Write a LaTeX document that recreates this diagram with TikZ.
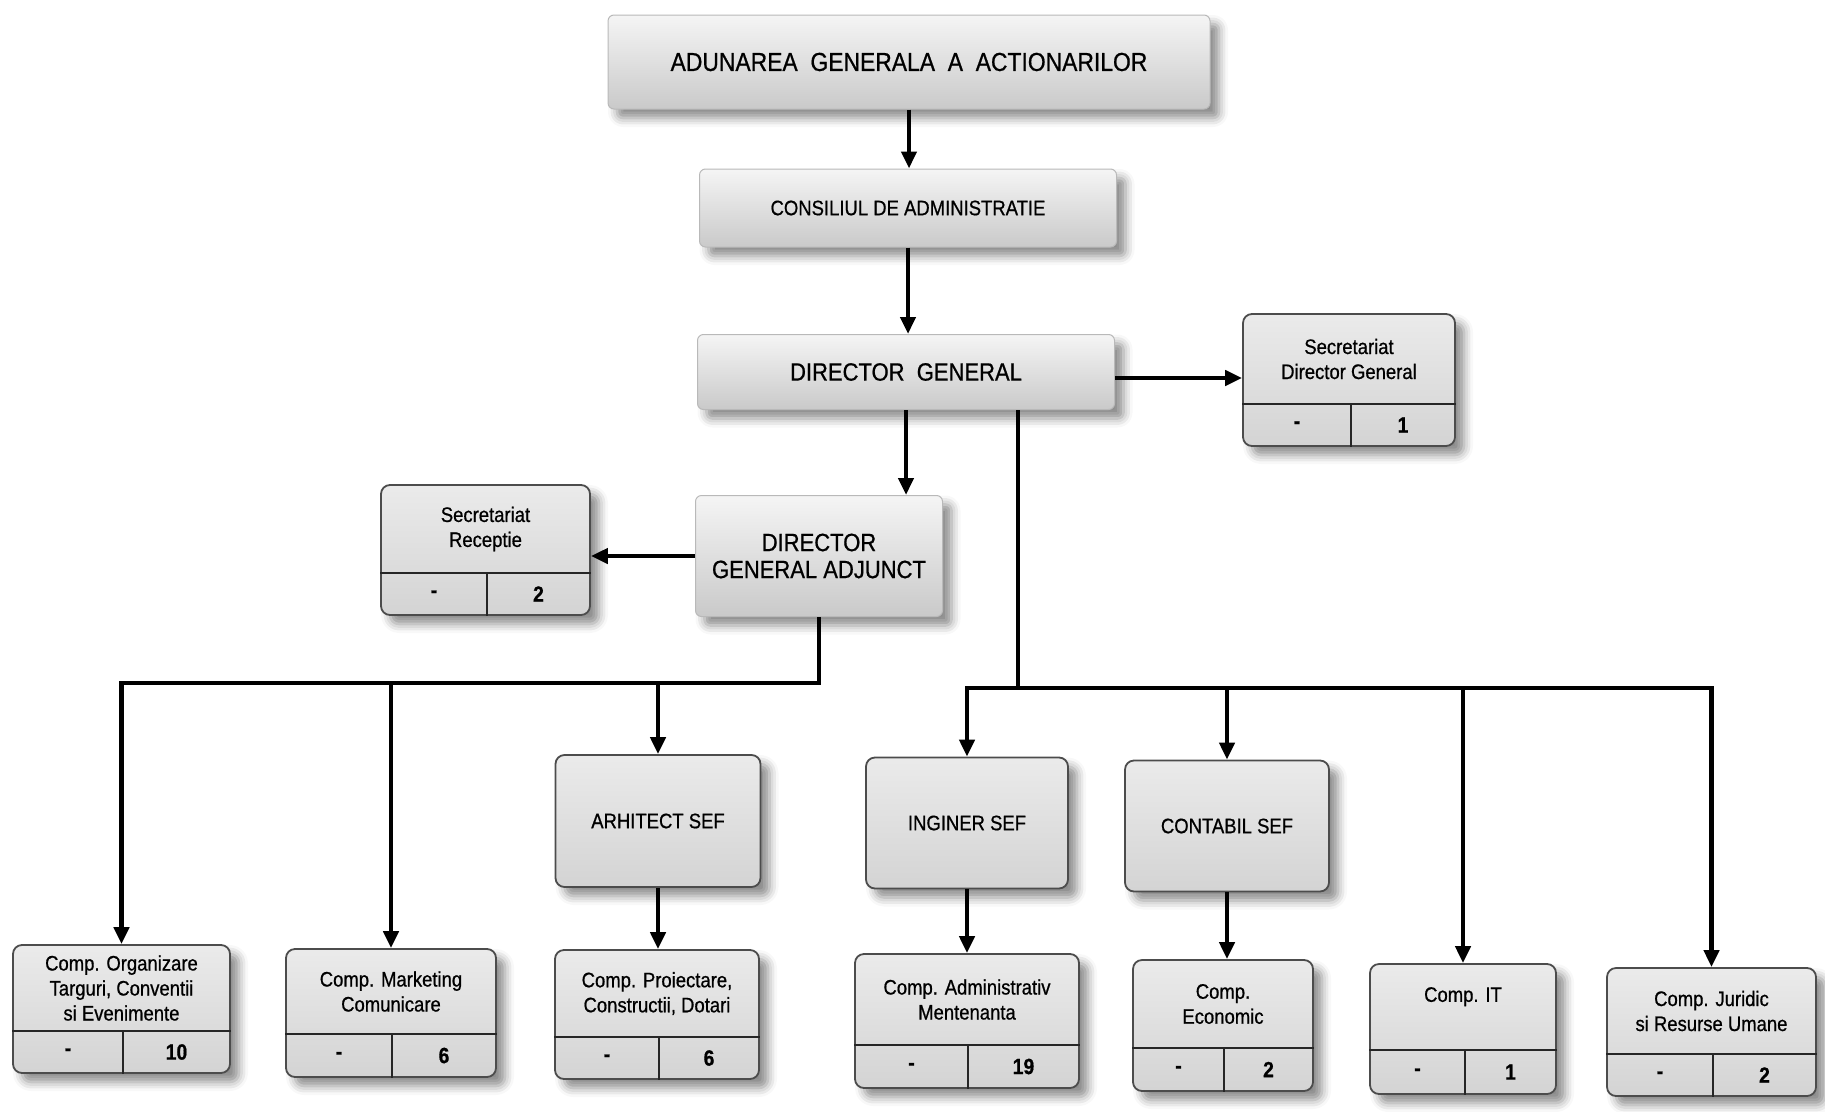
\documentclass[tikz,border=0pt]{standalone}
\usepackage{fontspec}
\setmainfont{Liberation Sans}[FakeStretch=0.88, FakeBold=0.7]
\usetikzlibrary{arrows.meta,shadows.blur}

\tikzset{
  boxshadow/.style={blur shadow={shadow xshift=9pt, shadow yshift=-9pt, shadow blur radius=9pt, shadow opacity=45}},
  headbox/.style={draw=gray!55, line width=1pt, rounded corners=6pt, top color=gray!8, bottom color=gray!42, boxshadow, align=center, inner sep=0pt},
  unitbox/.style={draw=black!70, line width=1.8pt, rounded corners=9pt, top color=gray!16, bottom color=gray!34, boxshadow, align=center, inner sep=0pt},
  unittext/.style={align=center, inner sep=0pt, font=\fontsize{21}{25}\selectfont},
  numtext/.style={inner sep=0pt, font=\fontsize{22}{24}\selectfont\bfseries},
  divline/.style={line width=2.4pt, black!85},
  conn/.style={line width=4.4pt, -{Triangle[length=17pt,width=15pt]}},
}

\begin{document}
\begin{tikzpicture}[x=1pt, y=-1pt]
  \useasboundingbox (0,0) rectangle (1825,1111);

  % management boxes
  \node[headbox, minimum width=602pt, minimum height=94pt, font=\fontsize{26}{30}\selectfont] (agm) at (909,62) {ADUNAREA~~GENERALA~~A~~ACTIONARILOR};
  \node[headbox, minimum width=417pt, minimum height=78pt, font=\fontsize{21}{25}\selectfont] (ca) at (908,208) {CONSILIUL DE ADMINISTRATIE};
  \node[headbox, minimum width=417pt, minimum height=75pt, font=\fontsize{25}{28}\selectfont] (dg) at (906,372) {DIRECTOR~~GENERAL};
  \node[headbox, minimum width=247pt, minimum height=121pt, font=\fontsize{25}{27}\selectfont] (dga) at (819,556) {DIRECTOR\\GENERAL ADJUNCT};

  % chief boxes
  \node[unitbox, minimum width=205pt, minimum height=132pt, font=\fontsize{21}{25}\selectfont] (arh) at (658,821) {ARHITECT SEF};
  \node[unitbox, minimum width=202pt, minimum height=131pt, font=\fontsize{21}{25}\selectfont] (ing) at (967,823) {INGINER SEF};
  \node[unitbox, minimum width=204pt, minimum height=131pt, font=\fontsize{21}{25}\selectfont] (cont) at (1227,826) {CONTABIL SEF};

  % compartment boxes: name/left/top/right/bottom/divider/split/text/count
  \foreach \nm/\lx/\ty/\rx/\by/\dy/\vx/\txt/\cnt in {
      secdg/1243/314/1455/446/404/1351/{Secretariat\\Director General}/1,
      secrec/381/485/590/615/573/487/{Secretariat\\Receptie}/2,
      org/13/945/230/1073/1031/123/{Comp. Organizare\\Targuri, Conventii\\si Evenimente}/10,
      mkt/286/949/496/1077/1034/392/{Comp. Marketing\\Comunicare}/6,
      proi/555/950/759/1079/1037/659/{Comp. Proiectare,\\Constructii, Dotari}/6,
      adm/855/954/1079/1088/1045/968/{Comp. Administrativ\\Mentenanta}/19,
      eco/1133/960/1313/1091/1048/1224/{Comp.\\Economic}/2,
      it/1370/964/1556/1094/1050/1465/{Comp. IT\\{}}/1,
      jur/1607/968/1816/1096/1054/1713/{Comp. Juridic\\si Resurse Umane}/2} {
    \pgfmathsetmacro{\boxw}{\rx-\lx}
    \pgfmathsetmacro{\boxh}{\by-\ty}
    \node[unitbox, minimum width=\boxw pt, minimum height=\boxh pt] (\nm) at ({(\lx+\rx)/2},{(\ty+\by)/2}) {};
    \node[unittext] (\nm-title) at ({(\lx+\rx)/2},{(\ty+\dy)/2}) {\txt};
    \draw[divline] (\nm.west |- 0,\dy) -- (\nm.east |- 0,\dy);
    \draw[divline] (\vx,\dy) -- (\nm.south -| \vx,0);
    \node[numtext] (\nm-vac) at ({(\lx+\vx)/2},{(\dy+\by)/2}) {-};
    \node[numtext] (\nm-cnt) at ({(\vx+\rx)/2},{(\dy+\by)/2}) {\cnt};
  }

  % connectors
  \coordinate (lbus) at (0,683);
  \coordinate (rbus) at (0,688);
  \coordinate (dgb) at ([xshift=112pt]dg.south);
  \coordinate (dgr) at ([yshift=-6pt]dg.east);
  \draw[conn] (agm.south) -- (agm.south |- ca.north);
  \draw[conn] (ca.south) -- (ca.south |- dg.north);
  \draw[conn] (dg.south) -- (dg.south |- dga.north);
  \draw[conn] (dgr) -- (secdg.west |- dgr);
  \draw[conn] (dga.west) -- (secrec.east |- dga.west);
  \draw[conn] (dga.south) -- (dga.south |- lbus) -| (org.north);
  \draw[conn] (mkt.north |- lbus) -- (mkt.north);
  \draw[conn] (arh.north |- lbus) -- (arh.north);
  \draw[conn] (arh.south) -- (arh.south |- proi.north);
  \draw[conn] (dgb) -- (dgb |- rbus) -| (jur.north);
  \draw[conn] (dgb |- rbus) -| (ing.north);
  \draw[conn] (cont.north |- rbus) -- (cont.north);
  \draw[conn] (it.north |- rbus) -- (it.north);
  \draw[conn] (ing.south) -- (ing.south |- adm.north);
  \draw[conn] (cont.south) -- (cont.south |- eco.north);
\end{tikzpicture}
\end{document}
